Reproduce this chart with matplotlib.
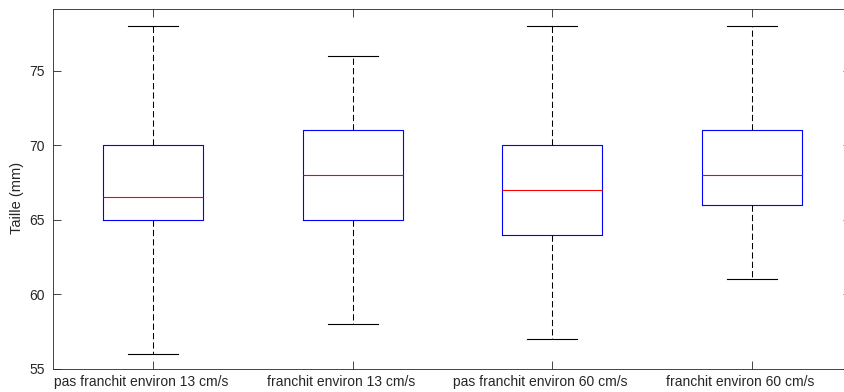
import matplotlib.pyplot as plt
import matplotlib.transforms as mtransforms

# groupes et valeurs
labels = ['pas franchit environ 13 cm/s', 'franchit environ 13 cm/s',
          'pas franchit environ 60 cm/s', 'franchit environ 60 cm/s']
whislo = [56, 58, 57, 61]
q1 = [65, 65, 64, 66]
med = [66.5, 68, 67, 68]
q3 = [70, 71, 70, 71]
whishi = [78, 76, 78, 78]

plt.rcParams['font.family'] = ['Liberation Sans', 'DejaVu Sans']
gris = '#262626'

stats = []
for i in range(len(labels)):
    stats.append({'label': labels[i], 'whislo': whislo[i], 'q1': q1[i],
                  'med': med[i], 'q3': q3[i], 'whishi': whishi[i], 'fliers': []})

fig = plt.figure(figsize=(8.45, 3.92), dpi=100)
ax = fig.add_axes([53.5/845, 1 - 368.5/392, (851.5-53.5)/845, (368.5-9.3)/392])

ax.bxp(stats, positions=[1, 2, 3, 4], widths=0.5, showfliers=False,
       boxprops=dict(color='#0000ff', linewidth=0.8),
       medianprops=dict(color='#ff0000', linewidth=0.8),
       whiskerprops=dict(color='black', linewidth=0.75, linestyle=(0, (6, 3))),
       capprops=dict(color='black', linewidth=0.8), capwidths=0.25)

ax.set_xlim(0.5, 4.5)
ax.set_ylim(55, 79.13)
ax.set_yticks([55, 60, 65, 70, 75])
ax.set_xticks([1, 2, 3, 4])
ax.set_xticklabels(labels)
ax.tick_params(direction='in', length=5.8, width=0.6, labelsize=10,
               top=True, right=True, color=gris, labelcolor=gris)
ax.tick_params(axis='y', pad=6)
ax.tick_params(axis='x', pad=5)

# les etiquettes x sont un peu decalees vers la gauche
shift = mtransforms.ScaledTranslation(-12/100, 0, fig.dpi_scale_trans)
for lab in ax.get_xticklabels():
    lab.set_transform(lab.get_transform() + shift)

for s in ax.spines.values():
    s.set_linewidth(0.6)
    s.set_color(gris)

fig.text(17.5/845, 1 - 198/392, 'Taille (mm)', rotation=90, fontsize=10.5,
         ha='center', va='center', color=gris)

fig.savefig('out.png', dpi=100)
